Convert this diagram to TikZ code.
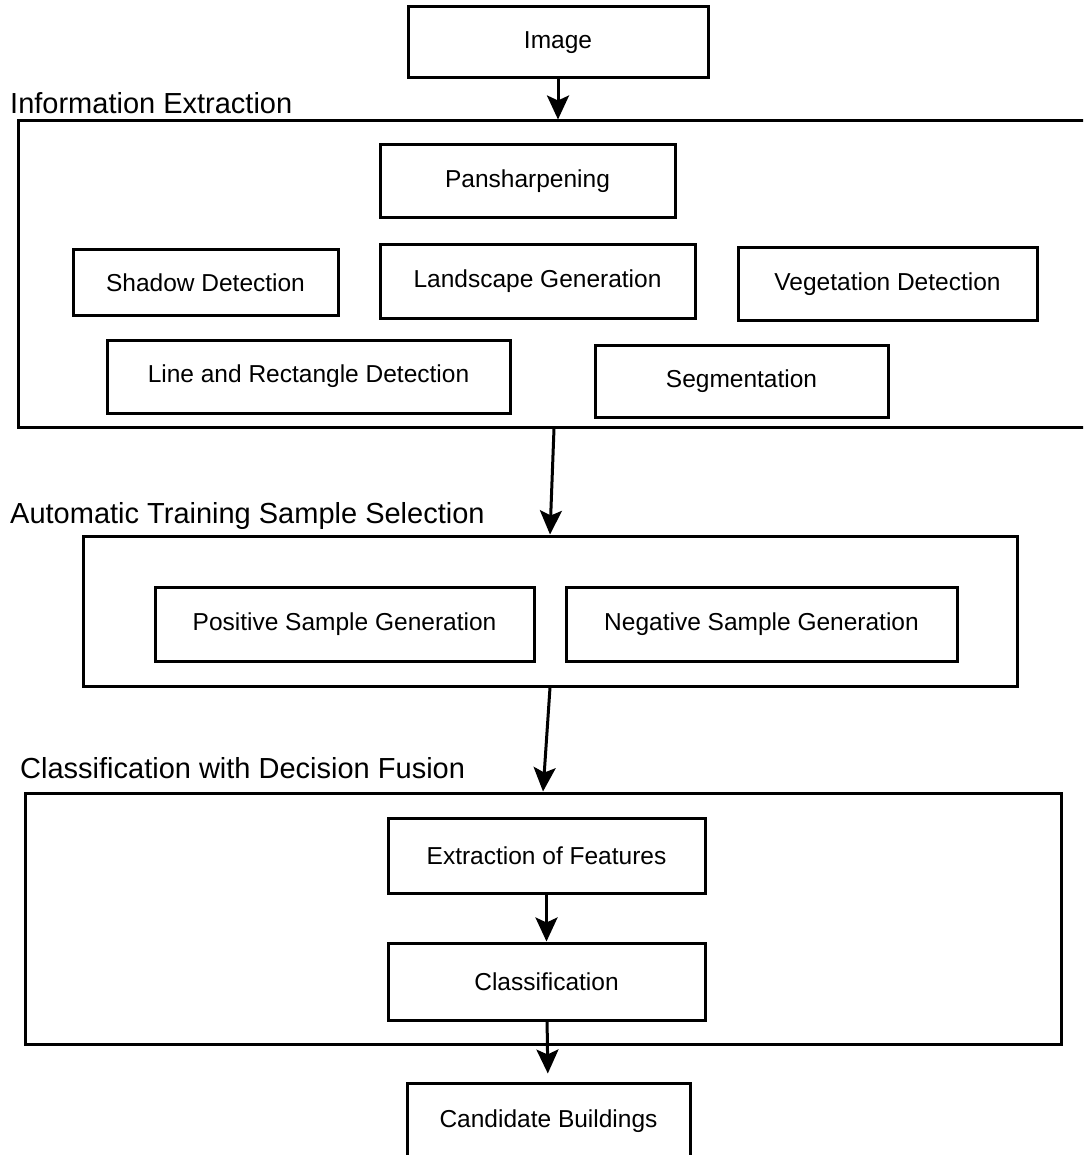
\documentclass[tikz,border=0pt]{standalone}
\usepackage{fontspec}
\setmainfont{Liberation Sans}
\usetikzlibrary{arrows.meta}
\begin{document}
\begin{tikzpicture}[x=1pt,y=-1pt,
    box/.style={draw,line width=3pt,inner sep=0pt,align=center,font=\fontsize{24.5}{29}\selectfont},
    group/.style={draw,line width=3pt,inner sep=0pt},
    title/.style={anchor=west,inner sep=0pt,font=\fontsize{29}{34}\selectfont},
    flow/.style={line width=3pt,-{Stealth[length=24pt,width=22pt,inset=5pt]}}]

        \useasboundingbox (0,0) rectangle (1083,1155);
        \clip (0,0) rectangle (1083,1155);

        % Input
        \node[box,minimum width=300pt,minimum height=71pt] (img) at (558,42.5) {Image};

        % Information extraction
        \node[title] (infotitle) at (10,103) {Information Extraction};
        \node[group,minimum width=1072pt,minimum height=306pt] (info) at (554,274) {};
        \node[box,minimum width=295pt,minimum height=73pt] (pan) at (527.5,181.5) {Pansharpening};
        \node[box,minimum width=265pt,minimum height=65pt] (shadow) at (205.5,282.5) {Shadow Detection};
        \node[box,minimum width=315pt,minimum height=73pt] (land) at (537.5,281.5) {Landscape Generation};
        \node[box,minimum width=299pt,minimum height=72pt] (veg) at (887.5,284) {Vegetation Detection};
        \node[box,minimum width=403pt,minimum height=73pt] (linerect) at (308.5,376.5) {Line and Rectangle Detection};
        \node[box,minimum width=293pt,minimum height=72pt] (seg) at (741.5,381) {Segmentation};

        % Training samples
        \node[title] (atstitle) at (10,516) {Automatic Training Sample Selection};
        \node[group,minimum width=934pt,minimum height=150pt] (ats) at (550,611) {};
        \node[box,minimum width=379pt,minimum height=74pt] (pos) at (344.5,624) {Positive Sample Generation};
        \node[box,minimum width=391pt,minimum height=74pt] (neg) at (761.5,624) {Negative Sample Generation};

        % Classification
        \node[title] (cdftitle) at (20,768) {Classification with Decision Fusion};
        \node[group,minimum width=1036pt,minimum height=251pt] (cdf) at (543,918.5) {};
        \node[box,minimum width=317pt,minimum height=75pt] (feat) at (546.5,855.5) {Extraction of Features};
        \node[box,minimum width=317pt,minimum height=77pt] (cls) at (546.5,981.5) {Classification};

        % Output
        \node[box,minimum width=283pt,minimum height=76pt] (cand) at (548.5,1121) {Candidate Buildings};

        % Arrows
        \draw[flow] (img.south) -- (img.south |- info.north);
        \draw[flow] (info.south) -- (ats.north);
        \draw[flow] (ats.south) -- (cdf.north);
        \draw[flow] (feat) -- (cls);
        \draw[flow,shorten >=8pt] (cls) -- (cand);

\end{tikzpicture}
\end{document}
